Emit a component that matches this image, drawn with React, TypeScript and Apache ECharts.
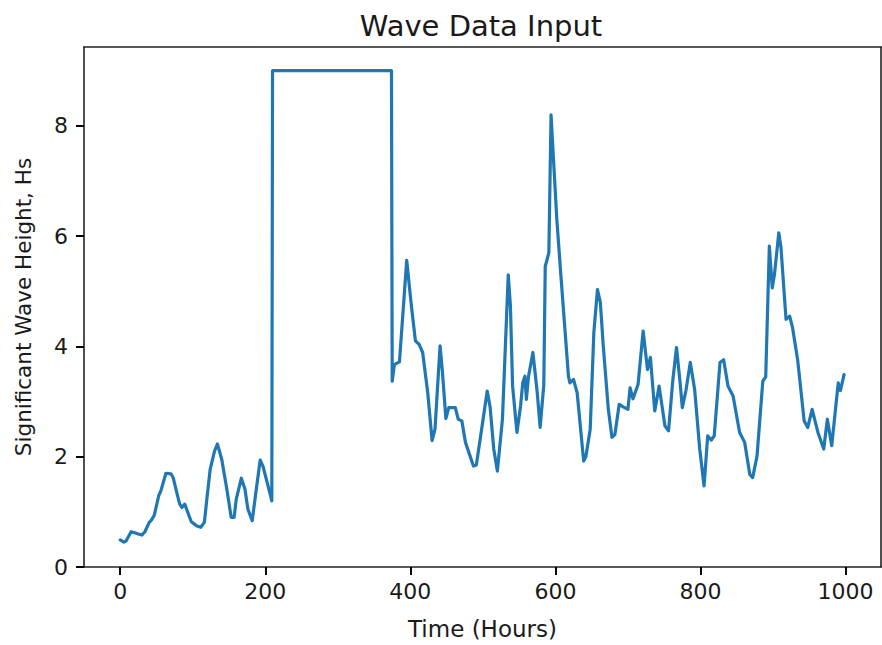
import React, { useEffect, useRef } from "react";
import * as echarts from "echarts";

const hours = [
  0, 5, 8, 15, 20, 25, 30, 34, 40, 43, 47, 53, 56, 63, 70, 73, 78, 82, 85, 89, 94, 98, 105, 111, 116,
  120, 124, 130, 134, 140, 147, 153, 157, 160, 167, 172, 176, 182, 187, 193, 197, 205, 209, 210,
  374, 375, 378, 385, 395, 401, 407, 412, 417, 424, 430, 434, 441, 444, 449, 453, 462, 466, 471,
  476, 487, 491, 499, 506, 510, 515, 520, 527, 535, 538, 541, 547, 552, 555, 558, 560, 563, 569,
  575, 579, 584, 586, 591, 594, 602, 607, 618, 620, 625, 630, 639, 642, 648, 653, 658, 662, 666,
  673, 678, 682, 688, 694, 700, 703, 707, 714, 721, 727, 731, 737, 743, 751, 756, 762, 767, 772,
  775, 780, 786, 792, 799, 805, 810, 815, 819, 827, 832, 838, 845, 854, 861, 868, 872, 878, 886,
  890, 895, 899, 902, 908, 911, 918, 923, 927, 934, 943, 948, 954, 962, 970, 975, 981, 990, 993, 998,
];

const waveHeight = [
  0.49, 0.45, 0.47, 0.64, 0.62, 0.6, 0.58, 0.64, 0.81, 0.85, 0.94, 1.29, 1.38, 1.7, 1.69, 1.62, 1.35,
  1.14, 1.08, 1.14, 0.96, 0.82, 0.75, 0.72, 0.81, 1.3, 1.77, 2.1, 2.23, 1.95, 1.41, 0.9, 0.9, 1.23,
  1.61, 1.41, 1.05, 0.84, 1.35, 1.94, 1.82, 1.41, 1.2, 9.0,
  9.0, 3.37, 3.67, 3.72, 5.56, 4.79, 4.1, 4.04, 3.89, 3.16, 2.29, 2.5, 4.01, 3.58, 2.69, 2.89, 2.89,
  2.68, 2.65, 2.26, 1.83, 1.85, 2.56, 3.19, 2.9, 2.14, 1.74, 2.68, 5.3, 4.73, 3.28, 2.44, 2.92, 3.34,
  3.46, 3.04, 3.46, 3.89, 3.16, 2.53, 3.3, 5.45, 5.7, 8.2, 6.3, 5.39, 3.46, 3.34, 3.4, 3.16, 1.92,
  2.0, 2.5, 4.25, 5.03, 4.8, 4.01, 2.86, 2.35, 2.4, 2.95, 2.9, 2.86, 3.25, 3.05, 3.31, 4.28, 3.58,
  3.8, 2.83, 3.28, 2.56, 2.47, 3.4, 3.98, 3.34, 2.89, 3.2, 3.71, 3.22, 2.14, 1.47, 2.38, 2.3, 2.38,
  3.71, 3.76, 3.28, 3.1, 2.44, 2.26, 1.68, 1.62, 2.01, 3.37, 3.45, 5.82, 5.06, 5.3, 6.06, 5.8, 4.49,
  4.55, 4.34, 3.76, 2.65, 2.53, 2.86, 2.44, 2.14, 2.68, 2.2, 3.34, 3.2, 3.49,
];

const xTicks = [0, 200, 400, 600, 800, 1000];
const yTicks = [0, 2, 4, 6, 8];

const FONT = "DejaVu Sans";
const TEXT = "#1a1a1a";
const AXIS = "#000";
const X_MIN = -49.95;
const X_MAX = 1048.95;
const Y_MIN = 0;
const Y_MAX = 9.43;

export default function App() {
  const ref = useRef<HTMLDivElement>(null);
  useEffect(() => {
    if (!ref.current) return;
    const chart = echarts.init(ref.current, null, { renderer: "svg" });
    const data = hours.map((h, i) => [h, waveHeight[i]]);
    const spineOnly = {
      axisLine: { show: true, onZero: false, lineStyle: { color: "#222", width: 1.6 } },
      axisTick: { show: false },
      axisLabel: { show: false },
      splitLine: { show: false },
    };
    chart.setOption({
      animation: false,
      backgroundColor: "#ffffff",
      title: {
        text: "Wave Data Input",
        left: 476,
        textAlign: "center",
        top: 6,
        textStyle: { fontFamily: FONT, fontSize: 29, fontWeight: "normal", color: TEXT },
      },
      grid: { left: 84, right: 1, top: 47, bottom: 77 },
      xAxis: [
        {
          type: "value",
          min: X_MIN,
          max: X_MAX,
          name: "Time (Hours)",
          nameLocation: "middle",
          nameGap: 50,
          nameTextStyle: { fontFamily: FONT, fontSize: 23, color: TEXT },
          splitLine: { show: false },
          axisLine: { show: true, onZero: false, lineStyle: { color: "#222", width: 1.6 } },
          axisTick: {
            show: true,
            inside: false,
            length: 8,
            lineStyle: { color: AXIS, width: 2 },
            customValues: xTicks,
          },
          axisLabel: {
            fontFamily: FONT,
            fontSize: 22,
            color: TEXT,
            margin: 13,
            customValues: xTicks,
            formatter: (v: number) => String(v),
          },
        },
        { type: "value", position: "top", min: X_MIN, max: X_MAX, ...spineOnly },
      ],
      yAxis: [
        {
          type: "value",
          min: Y_MIN,
          max: Y_MAX,
          name: "Significant Wave Height, Hs",
          nameLocation: "middle",
          nameGap: 50,
          nameRotate: 90,
          nameTextStyle: { fontFamily: FONT, fontSize: 21.5, color: TEXT },
          splitLine: { show: false },
          axisLine: { show: true, onZero: false, lineStyle: { color: "#222", width: 1.6 } },
          axisTick: {
            show: true,
            inside: false,
            length: 8,
            lineStyle: { color: AXIS, width: 2 },
            customValues: yTicks,
          },
          axisLabel: {
            fontFamily: FONT,
            fontSize: 22,
            color: TEXT,
            margin: 16,
            customValues: yTicks,
          },
        },
        { type: "value", position: "right", min: Y_MIN, max: Y_MAX, ...spineOnly },
      ],
      series: [
        {
          type: "line",
          data,
          xAxisIndex: 0,
          yAxisIndex: 0,
          showSymbol: false,
          symbol: "none",
          lineStyle: { color: "#1f77b4", width: 3.2, join: "round", cap: "round" },
          itemStyle: { color: "#1f77b4" },
        },
      ],
    });
    return () => chart.dispose();
  }, []);
  return (
    <div
      ref={ref}
      style={{ position: "fixed", left: 0, top: 0, width: 882, height: 645, background: "#fff" }}
    />
  );
}
